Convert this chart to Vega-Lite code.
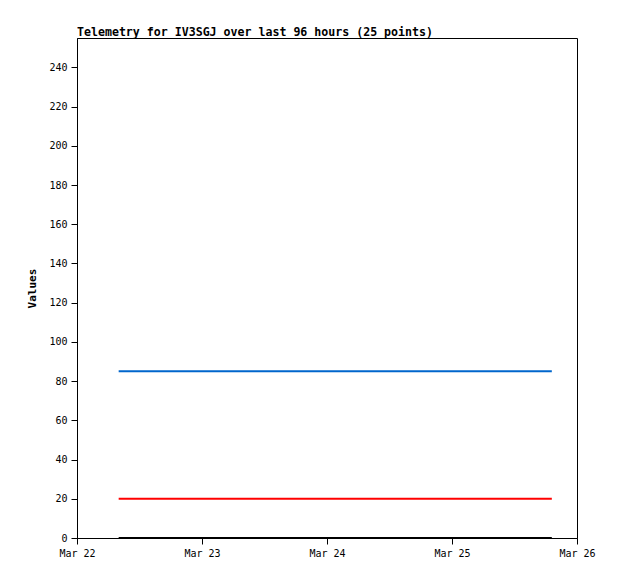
{
  "$schema": "https://vega.github.io/schema/vega-lite/v6.json",
  "width": 500,
  "height": 500,
  "autosize": "none",
  "padding": {"left": 77, "top": 38, "right": 41, "bottom": 41},
  "background": "white",
  "title": {
    "text": "Telemetry for IV3SGJ over last 96 hours (25 points)",
    "anchor": "start",
    "frame": "group",
    "font": "DejaVu Sans Mono",
    "fontSize": 11.6,
    "fontWeight": "bold",
    "color": "#000",
    "offset": -1
  },
  "config": {
    "view": {"stroke": "#000", "strokeWidth": 1},
    "axis": {
      "domainColor": "#000",
      "tickColor": "#000",
      "labelColor": "#000",
      "titleColor": "#000",
      "grid": false,
      "tickSize": 6,
      "labelFont": "DejaVu Sans Mono",
      "labelFontSize": 10,
      "titleFont": "DejaVu Sans Mono",
      "titleFontSize": 11,
      "titleFontWeight": "bold"
    }
  },
  "data": {
    "values": [
      {"t": "2024-03-22T08:00:00", "a": 0, "b": 20, "c": 85},
      {"t": "2024-03-22T11:28:00", "a": 0, "b": 20, "c": 85},
      {"t": "2024-03-22T14:56:00", "a": 0, "b": 20, "c": 85},
      {"t": "2024-03-22T18:24:00", "a": 0, "b": 20, "c": 85},
      {"t": "2024-03-22T21:52:00", "a": 0, "b": 20, "c": 85},
      {"t": "2024-03-23T01:20:00", "a": 0, "b": 20, "c": 85},
      {"t": "2024-03-23T04:48:00", "a": 0, "b": 20, "c": 85},
      {"t": "2024-03-23T08:16:00", "a": 0, "b": 20, "c": 85},
      {"t": "2024-03-23T11:44:00", "a": 0, "b": 20, "c": 85},
      {"t": "2024-03-23T15:12:00", "a": 0, "b": 20, "c": 85},
      {"t": "2024-03-23T18:40:00", "a": 0, "b": 20, "c": 85},
      {"t": "2024-03-23T22:08:00", "a": 0, "b": 20, "c": 85},
      {"t": "2024-03-24T01:36:00", "a": 0, "b": 20, "c": 85},
      {"t": "2024-03-24T05:04:00", "a": 0, "b": 20, "c": 85},
      {"t": "2024-03-24T08:32:00", "a": 0, "b": 20, "c": 85},
      {"t": "2024-03-24T12:00:00", "a": 0, "b": 20, "c": 85},
      {"t": "2024-03-24T15:28:00", "a": 0, "b": 20, "c": 85},
      {"t": "2024-03-24T18:56:00", "a": 0, "b": 20, "c": 85},
      {"t": "2024-03-24T22:24:00", "a": 0, "b": 20, "c": 85},
      {"t": "2024-03-25T01:52:00", "a": 0, "b": 20, "c": 85},
      {"t": "2024-03-25T05:20:00", "a": 0, "b": 20, "c": 85},
      {"t": "2024-03-25T08:48:00", "a": 0, "b": 20, "c": 85},
      {"t": "2024-03-25T12:16:00", "a": 0, "b": 20, "c": 85},
      {"t": "2024-03-25T15:44:00", "a": 0, "b": 20, "c": 85},
      {"t": "2024-03-25T19:10:00", "a": 0, "b": 20, "c": 85}
    ]
  },
  "encoding": {
    "x": {
      "field": "t",
      "type": "temporal",
      "scale": {"domain": ["2024-03-22T00:00:00", "2024-03-26T00:00:00"], "nice": false},
      "axis": {
        "title": null,
        "format": "%b %d",
        "values": ["2024-03-22T00:00:00", "2024-03-23T00:00:00", "2024-03-24T00:00:00", "2024-03-25T00:00:00", "2024-03-26T00:00:00"],
        "labelPadding": 4,
        "labelFlush": false,
        "labelOverlap": false
      }
    }
  },
  "layer": [
    {
      "mark": {"type": "line", "color": "#000000", "strokeWidth": 2, "clip": false},
      "encoding": {
        "y": {
          "field": "a",
          "type": "quantitative",
          "scale": {"domain": [0, 255], "nice": false, "zero": true},
          "axis": {
            "title": "Values",
            "values": [0, 20, 40, 60, 80, 100, 120, 140, 160, 180, 200, 220, 240],
            "labelPadding": 4,
            "titlePadding": 11,
            "labelFlush": false
          }
        }
      }
    },
    {
      "mark": {"type": "line", "color": "#ff0000", "strokeWidth": 2},
      "encoding": {"y": {"field": "b", "type": "quantitative"}}
    },
    {
      "mark": {"type": "line", "color": "#0066cc", "strokeWidth": 2},
      "encoding": {"y": {"field": "c", "type": "quantitative"}}
    }
  ]
}
